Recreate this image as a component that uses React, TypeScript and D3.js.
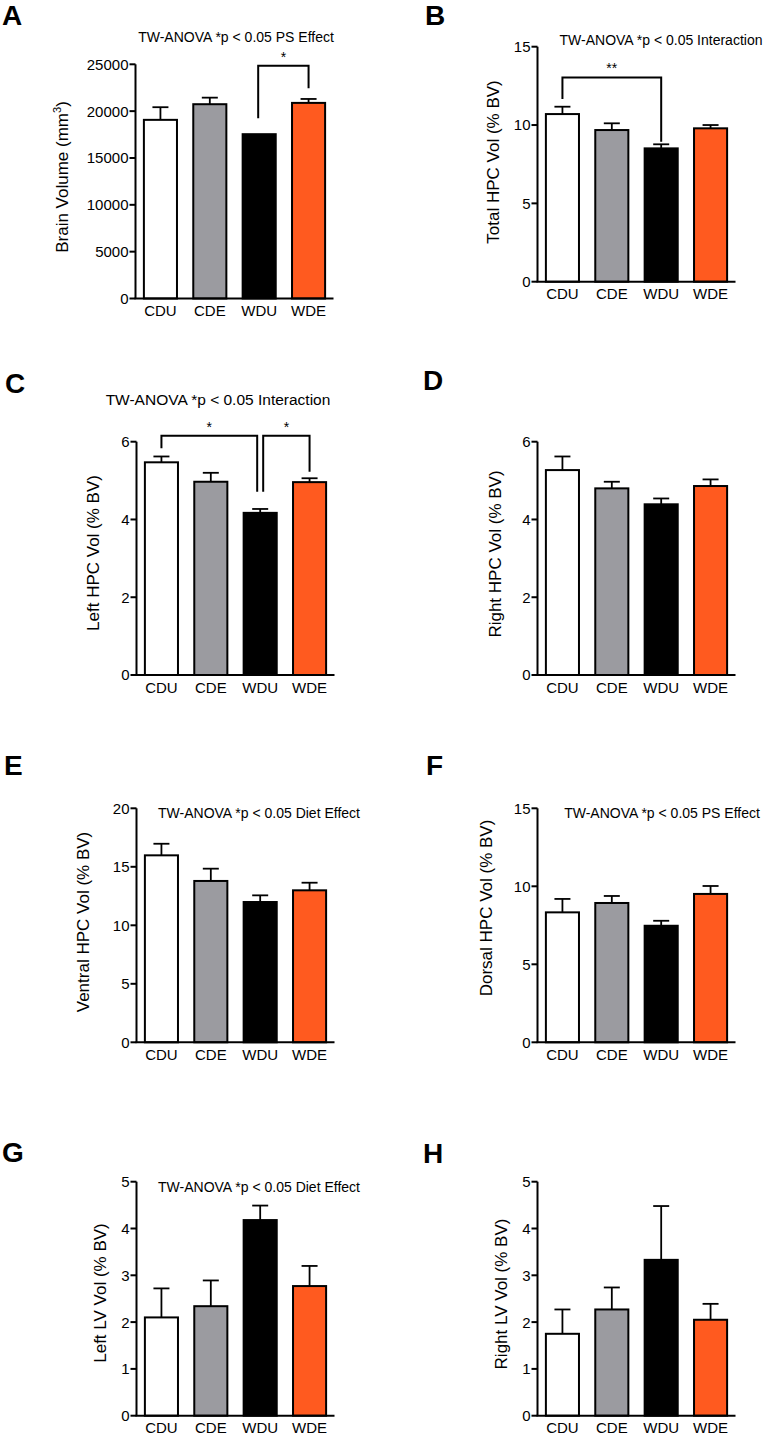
import React from "react";
import * as d3 from "d3";

const groups = ["CDU", "CDE", "WDU", "WDE"];
const fills = ["#ffffff", "#9b9ba0", "#000000", "#ff5a1f"];

const brainVolumeMean = [19070, 20740, 17540, 20880];
const brainVolumeSem = [1350, 700, 0, 420];
const totalHpcMean = [10.7, 9.68, 8.51, 9.79];
const totalHpcSem = [0.47, 0.43, 0.26, 0.21];
const leftHpcMean = [5.47, 4.97, 4.17, 4.96];
const leftHpcSem = [0.15, 0.23, 0.1, 0.1];
const rightHpcMean = [5.27, 4.8, 4.39, 4.86];
const rightHpcSem = [0.35, 0.17, 0.15, 0.17];
const ventralHpcMean = [15.98, 13.79, 11.99, 12.99];
const ventralHpcSem = [0.99, 1.05, 0.57, 0.65];
const dorsalHpcMean = [8.33, 8.93, 7.47, 9.51];
const dorsalHpcSem = [0.86, 0.45, 0.32, 0.51];
const leftLvMean = [2.1, 2.34, 4.18, 2.77];
const leftLvSem = [0.62, 0.55, 0.31, 0.43];
const rightLvMean = [1.75, 2.27, 3.33, 2.05];
const rightLvSem = [0.52, 0.47, 1.15, 0.34];

const titlePS = "TW-ANOVA *p < 0.05 PS Effect";
const titleInteraction = "TW-ANOVA *p < 0.05 Interaction";
const titleDiet = "TW-ANOVA *p < 0.05 Diet Effect";

// brackets: from/to group index, top value, leg bottoms (data units)
const bracketsA = [{ from: 2, to: 3, top: 24850, lb: 19250, rb: 22440, label: "*", fo: -1, to_: 0 }];
const bracketsB = [{ from: 0, to: 2, top: 13.04, lb: 11.66, rb: 8.93, label: "**", fo: 0, to_: 0 }];
const bracketsC = [
  { from: 0, to: 2, top: 6.15, lb: 5.83, rb: 4.71, label: "*", fo: 0, to_: -3 },
  { from: 2, to: 3, top: 6.15, lb: 4.71, rb: 5.23, label: "*", fo: 3, to_: 0 },
];

const FONT = "'Liberation Sans', Arial, Helvetica, sans-serif";

type Bracket = { from: number; to: number; top: number; lb: number; rb: number; label: string; fo: number; to_: number };
type Panel = {
  letter: string; lx: number; ly: number;
  axisX: number; yTop: number; yZero: number; max: number; step: number;
  yLabel: React.ReactNode; ylx: number; yly: number;
  title?: string; tx?: number; ty?: number; tsize?: number;
  means: number[]; sems: number[]; brackets: Bracket[];
};

const panels: Panel[] = [
  { letter: "A", lx: 2, ly: 25, axisX: 135.5, yTop: 64.3, yZero: 298.5, max: 25000, step: 5000,
    yLabel: (<>Brain Volume (mm<tspan fontSize={11} dy={-7}>3</tspan><tspan dy={7}>)</tspan></>), ylx: 62, yly: 177,
    title: titlePS, tx: 236, ty: 42, tsize: 14, means: brainVolumeMean, sems: brainVolumeSem, brackets: bracketsA },
  { letter: "B", lx: 425, ly: 25, axisX: 537.5, yTop: 46.7, yZero: 281.7, max: 15, step: 5,
    yLabel: "Total HPC Vol (% BV)", ylx: 493, yly: 162,
    title: titleInteraction, tx: 661, ty: 45, tsize: 14, means: totalHpcMean, sems: totalHpcSem, brackets: bracketsB },
  { letter: "C", lx: 5, ly: 393, axisX: 136.5, yTop: 441.7, yZero: 675, max: 6, step: 2,
    yLabel: "Left HPC Vol (% BV)", ylx: 93, yly: 553,
    title: titleInteraction, tx: 218, ty: 404.5, tsize: 15.5, means: leftHpcMean, sems: leftHpcSem, brackets: bracketsC },
  { letter: "D", lx: 423, ly: 390, axisX: 537.5, yTop: 441.7, yZero: 675, max: 6, step: 2,
    yLabel: "Right HPC Vol (% BV)", ylx: 495, yly: 554,
    means: rightHpcMean, sems: rightHpcSem, brackets: [] },
  { letter: "E", lx: 4, ly: 775, axisX: 136.5, yTop: 808.3, yZero: 1042.3, max: 20, step: 5,
    yLabel: "Ventral HPC Vol (% BV)", ylx: 83, yly: 922,
    title: titleDiet, tx: 259, ty: 818, tsize: 14, means: ventralHpcMean, sems: ventralHpcSem, brackets: [] },
  { letter: "F", lx: 426, ly: 775, axisX: 537.5, yTop: 808.3, yZero: 1042.3, max: 15, step: 5,
    yLabel: "Dorsal HPC Vol (% BV)", ylx: 486, yly: 908,
    title: titlePS, tx: 662, ty: 818, tsize: 14, means: dorsalHpcMean, sems: dorsalHpcSem, brackets: [] },
  { letter: "G", lx: 2, ly: 1162, axisX: 136.5, yTop: 1181.7, yZero: 1415.7, max: 5, step: 1,
    yLabel: "Left LV Vol (% BV)", ylx: 100, yly: 1293,
    title: titleDiet, tx: 259, ty: 1192, tsize: 14, means: leftLvMean, sems: leftLvSem, brackets: [] },
  { letter: "H", lx: 423, ly: 1163, axisX: 537.5, yTop: 1181.7, yZero: 1415.7, max: 5, step: 1,
    yLabel: "Right LV Vol (% BV)", ylx: 501, yly: 1294,
    means: rightLvMean, sems: rightLvSem, brackets: [] },
];

function PanelChart({ p }: { p: Panel }) {
  const x = d3.scaleBand<string>().domain(groups).range([p.axisX, p.axisX + 198]).paddingInner(0.33).paddingOuter(0.17);
  const y = d3.scaleLinear().domain([0, p.max]).range([p.yZero, p.yTop]);
  const ticks = d3.range(0, p.max + p.step / 2, p.step);
  const bw = x.bandwidth();
  const cx = (i: number) => (x(groups[i]) as number) + bw / 2;
  return (
    <g fontFamily={FONT}>
      <text x={p.lx} y={p.ly} fontSize={28} fontWeight="bold">{p.letter}</text>
      {p.title && (
        <text x={p.tx} y={p.ty} fontSize={p.tsize} textAnchor="middle">{p.title}</text>
      )}
      {/* bars */}
      {groups.map((g, i) => (
        <rect key={g} x={x(g)} y={y(p.means[i])} width={bw} height={p.yZero - y(p.means[i])}
          fill={fills[i]} stroke="#000" strokeWidth={2} />
      ))}
      {/* error bars */}
      {groups.map((g, i) => p.sems[i] > 0 ? (
        <g key={g + "e"} stroke="#000" strokeWidth={1.8}>
          <line x1={cx(i)} x2={cx(i)} y1={y(p.means[i])} y2={y(p.means[i] + p.sems[i])} />
          <line x1={cx(i) - 8} x2={cx(i) + 8} y1={y(p.means[i] + p.sems[i])} y2={y(p.means[i] + p.sems[i])} />
        </g>
      ) : null)}
      {/* axes */}
      <line x1={p.axisX} x2={p.axisX} y1={p.yTop} y2={p.yZero} stroke="#000" strokeWidth={2} />
      <line x1={p.axisX - 1} x2={p.axisX + 198} y1={p.yZero} y2={p.yZero} stroke="#000" strokeWidth={2} />
      {ticks.map((t) => (
        <g key={t}>
          <line x1={p.axisX - 6} x2={p.axisX} y1={y(t)} y2={y(t)} stroke="#000" strokeWidth={2} />
          <text x={p.axisX - 7} y={y(t)} dy="0.36em" fontSize={15} textAnchor="end">{t}</text>
        </g>
      ))}
      {groups.map((g, i) => (
        <text key={g + "l"} x={cx(i)} y={p.yZero + 17.5} fontSize={15} textAnchor="middle">{g}</text>
      ))}
      <text transform={`translate(${p.ylx},${p.yly}) rotate(-90)`} dy="0.36em" fontSize={17} textAnchor="middle">{p.yLabel}</text>
      {/* brackets */}
      {p.brackets.map((b, k) => {
        const xa = cx(b.from) + b.fo;
        const xb = cx(b.to) + b.to_;
        const yt = y(b.top);
        return (
          <g key={k}>
            <path d={`M${xa},${y(b.lb)}V${yt}H${xb}V${y(b.rb)}`} fill="none" stroke="#000" strokeWidth={2} />
            <text x={(xa + xb) / 2} y={yt - 4} fontSize={14} textAnchor="middle">{b.label}</text>
          </g>
        );
      })}
    </g>
  );
}

export default function App() {
  return (
    <svg width={766} height={1435} style={{ position: "absolute", left: 0, top: 0, background: "#fff" }}>
      <rect width={766} height={1435} fill="#fff" />
      {panels.map((p) => <PanelChart key={p.letter} p={p} />)}
    </svg>
  );
}
